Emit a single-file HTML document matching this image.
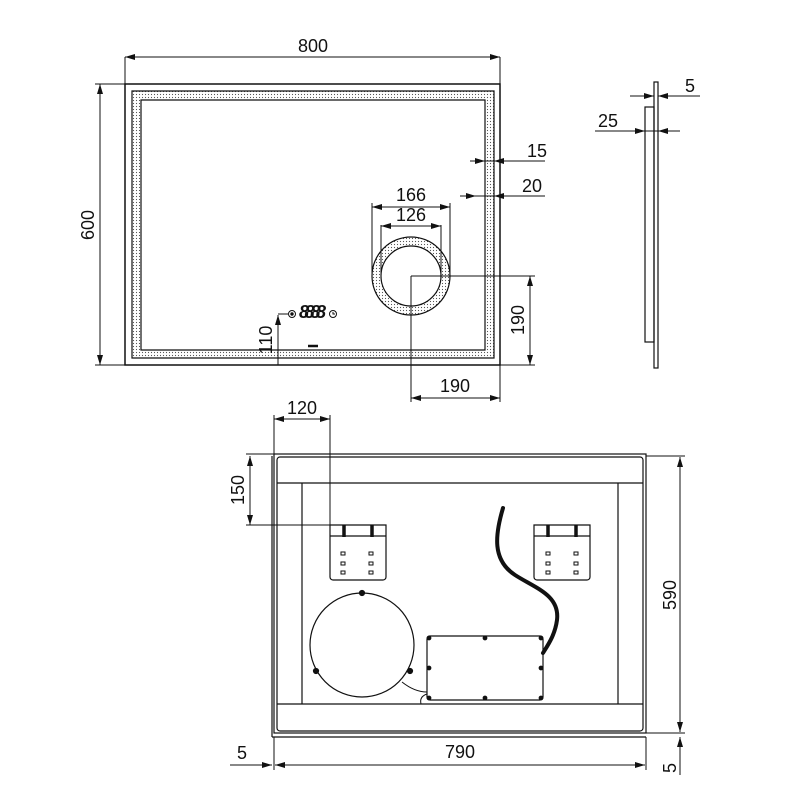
<!DOCTYPE html>
<html><head><meta charset="utf-8"><style>
html,body{margin:0;padding:0;background:#fff}
svg{display:block}
text{font-family:"Liberation Sans",sans-serif;font-size:18px;fill:#111}
</style></head><body>
<svg width="800" height="800" viewBox="0 0 800 800" xmlns="http://www.w3.org/2000/svg">
<defs>
<pattern id="dots" width="3" height="3" patternUnits="userSpaceOnUse"><rect width="3" height="3" fill="#fff"/><circle cx="1.5" cy="1.5" r="0.6" fill="#555"/></pattern>
<marker id="a" viewBox="0 0 10 6" refX="10" refY="3" markerWidth="10" markerHeight="6" orient="auto-start-reverse" markerUnits="userSpaceOnUse"><path d="M0,0L10,3L0,6z" fill="#111"/></marker>
</defs>
<g stroke="#111" fill="none" stroke-width="1">
<rect x="125" y="84" width="375" height="281" stroke-width="1.5"/>
<path fill-rule="evenodd" fill="url(#dots)" stroke-width="1.2" d="M132,91H494V358H132Z M141,100V350H485V100Z"/>
<path fill-rule="evenodd" fill="url(#dots)" stroke-width="1.2" d="M372,276a39,39 0 1,0 78,0a39,39 0 1,0 -78,0Z M381,276a30,30 0 1,1 60,0a30,30 0 1,1 -60,0Z"/>
<line x1="125" y1="57" x2="125" y2="84"/><line x1="500" y1="57" x2="500" y2="84"/>
<line x1="125" y1="57" x2="500" y2="57" marker-start="url(#a)" marker-end="url(#a)"/>
<line x1="95" y1="84" x2="125" y2="84"/><line x1="95" y1="365" x2="125" y2="365"/>
<line x1="100" y1="84" x2="100" y2="365" marker-start="url(#a)" marker-end="url(#a)"/>
<line x1="372" y1="203" x2="372" y2="276"/><line x1="450" y1="203" x2="450" y2="276"/>
<line x1="372" y1="207" x2="450" y2="207" marker-start="url(#a)" marker-end="url(#a)"/>
<line x1="381" y1="225" x2="381" y2="276"/><line x1="441" y1="225" x2="441" y2="276"/>
<line x1="381" y1="226" x2="441" y2="226" marker-start="url(#a)" marker-end="url(#a)"/>
<line x1="411" y1="276" x2="411" y2="402"/><line x1="500" y1="365" x2="500" y2="402"/>
<line x1="411" y1="398" x2="500" y2="398" marker-start="url(#a)" marker-end="url(#a)"/>
<line x1="411" y1="276" x2="535" y2="276"/><line x1="500" y1="365" x2="535" y2="365"/>
<line x1="530" y1="276" x2="530" y2="365" marker-start="url(#a)" marker-end="url(#a)"/>
<line x1="470" y1="161" x2="485" y2="161" marker-end="url(#a)"/><line x1="485" y1="161" x2="494" y2="161"/>
<line x1="510" y1="161" x2="494" y2="161" marker-end="url(#a)"/><line x1="510" y1="161" x2="545" y2="161"/>
<line x1="460" y1="196" x2="476" y2="196" marker-end="url(#a)"/><line x1="476" y1="196" x2="494" y2="196"/>
<line x1="510" y1="196" x2="494" y2="196" marker-end="url(#a)"/><line x1="510" y1="196" x2="545" y2="196"/>
<line x1="278" y1="365" x2="278" y2="315" marker-end="url(#a)"/><line x1="278" y1="314" x2="288" y2="314"/>
<circle cx="292" cy="314" r="3.5"/><circle cx="292" cy="314" r="1.2" fill="#111"/>
<circle cx="333" cy="314" r="3.5"/><path d="M333,312v2h2"/>
<path d="M308,346h10" stroke-width="2.5"/>
</g>
<text x="299" y="318" font-size="8" font-weight="bold" font-style="italic" textLength="27">8888</text>
<g stroke="#111" fill="none">
<rect x="654" y="82" width="4" height="286" stroke-width="1.2"/>
<rect x="645" y="107" width="9" height="235" stroke-width="1.2"/>
<line x1="630" y1="96" x2="654" y2="96" marker-end="url(#a)"/>
<line x1="700" y1="96" x2="658" y2="96" marker-end="url(#a)"/>
<line x1="595" y1="131" x2="645" y2="131" marker-end="url(#a)"/><line x1="645" y1="131" x2="658" y2="131"/>
<line x1="680" y1="131" x2="658" y2="131" marker-end="url(#a)"/>
</g>
<g stroke="#111" fill="none" stroke-width="1.2">
<rect x="274" y="454" width="372" height="279"/>
<line x1="272" y1="456" x2="272" y2="737"/><line x1="272" y1="737" x2="646" y2="737"/>
<rect x="277" y="457" width="366" height="274" rx="3"/>
<line x1="277" y1="483" x2="643" y2="483"/><line x1="277" y1="704" x2="643" y2="704"/>
<line x1="302" y1="483" x2="302" y2="704"/><line x1="618" y1="483" x2="618" y2="704"/>
<path d="M330,525H386V577a3,3 0 0 1 -3,3H333a3,3 0 0 1 -3,-3Z M330,536H386"/>
<path d="M534,525H590V577a3,3 0 0 1 -3,3H537a3,3 0 0 1 -3,-3Z M534,536H590"/>
<g stroke-width="3.5"><path d="M344,525v12M372,525v12M548,525v12M576,525v12"/></g>
<g stroke-width="1"><rect x="341" y="552" width="4" height="3"/><rect x="341" y="562" width="4" height="3"/><rect x="341" y="571" width="4" height="3"/>
<rect x="369" y="552" width="4" height="3"/><rect x="369" y="562" width="4" height="3"/><rect x="369" y="571" width="4" height="3"/>
<rect x="546" y="552" width="4" height="3"/><rect x="546" y="562" width="4" height="3"/><rect x="546" y="571" width="4" height="3"/>
<rect x="574" y="552" width="4" height="3"/><rect x="574" y="562" width="4" height="3"/><rect x="574" y="571" width="4" height="3"/></g>
<circle cx="362" cy="645" r="52"/>
<circle cx="362" cy="593" r="2.5" fill="#111"/><circle cx="316" cy="671" r="2.5" fill="#111"/><circle cx="410" cy="671" r="2.5" fill="#111"/>
<path d="M402,682C412,690 420,692 427,692M427,694C421,696 420,700 421,704" stroke-width="1"/>
<rect x="427" y="636" width="116" height="64" rx="3"/>
<g fill="#111"><circle cx="429" cy="638" r="1.8"/><circle cx="485" cy="638" r="1.8"/><circle cx="541" cy="638" r="1.8"/>
<circle cx="429" cy="668" r="1.8"/><circle cx="541" cy="668" r="1.8"/>
<circle cx="429" cy="698" r="1.8"/><circle cx="485" cy="698" r="1.8"/><circle cx="541" cy="698" r="1.8"/></g>
<path d="M503,508C495,535 492,560 515,575C535,588 560,595 557,620C555,635 548,645 543,653" stroke-width="4" stroke-linecap="round"/>
</g>
<g stroke="#111" fill="none">
<line x1="274" y1="415" x2="274" y2="454"/><line x1="330" y1="415" x2="330" y2="525"/>
<line x1="274" y1="419" x2="330" y2="419" marker-start="url(#a)" marker-end="url(#a)"/>
<line x1="246" y1="454" x2="274" y2="454"/><line x1="246" y1="525" x2="330" y2="525"/>
<line x1="250" y1="456" x2="250" y2="525" marker-start="url(#a)" marker-end="url(#a)"/>
<line x1="646" y1="456" x2="685" y2="456"/><line x1="646" y1="733" x2="685" y2="733"/>
<line x1="680" y1="457" x2="680" y2="732" marker-start="url(#a)" marker-end="url(#a)"/>
<line x1="680" y1="775" x2="680" y2="737" marker-end="url(#a)"/>
<line x1="274" y1="737" x2="274" y2="770"/><line x1="646" y1="737" x2="646" y2="770"/>
<line x1="275" y1="765" x2="645" y2="765" marker-start="url(#a)" marker-end="url(#a)"/>
<line x1="230" y1="765" x2="272" y2="765" marker-end="url(#a)"/>
</g>
<text x="313" y="52" text-anchor="middle">800</text>
<text transform="translate(94,225) rotate(-90)" text-anchor="middle">600</text>
<text x="411" y="201" text-anchor="middle">166</text>
<text x="411" y="221" text-anchor="middle">126</text>
<text x="455" y="392" text-anchor="middle">190</text>
<text transform="translate(524,320) rotate(-90)" text-anchor="middle">190</text>
<text x="537" y="157" text-anchor="middle">15</text>
<text x="532" y="192" text-anchor="middle">20</text>
<text transform="translate(272,340) rotate(-90)" text-anchor="middle">110</text>
<text x="690" y="92" text-anchor="middle">5</text>
<text x="608" y="127" text-anchor="middle">25</text>
<text x="302" y="414" text-anchor="middle">120</text>
<text transform="translate(244,490) rotate(-90)" text-anchor="middle">150</text>
<text transform="translate(676,595) rotate(-90)" text-anchor="middle">590</text>
<text x="460" y="758" text-anchor="middle">790</text>
<text x="242" y="759" text-anchor="middle">5</text>
<text transform="translate(676,768) rotate(-90)" text-anchor="middle">5</text>
</svg>
</body></html>
